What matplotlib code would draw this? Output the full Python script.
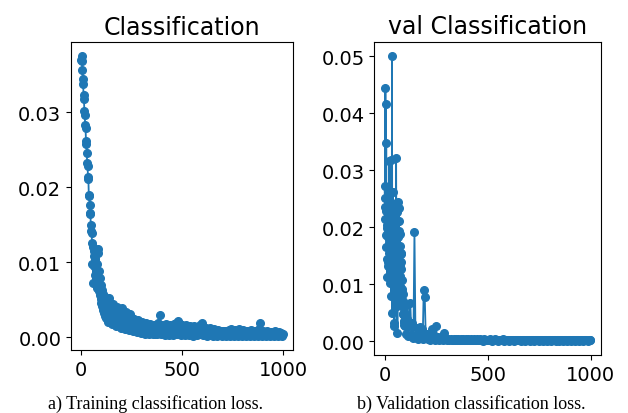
#!/usr/bin/env python3
"""
Training / validation classification loss
"""

import numpy as np
from matplotlib import pyplot as plt

# training loss: every 2 epochs up to 118, then every 5
train_epochs = np.r_[0:120:2, 120:1000:5, 999]
train_loss = [
    0.0370, 0.0375, 0.0368, 0.0356, 0.0344, 0.0338, 0.0323, 0.0318, 0.0302, 0.0296,
    0.0283, 0.0279, 0.0262, 0.0258, 0.0246, 0.0232, 0.0228, 0.0214, 0.0211, 0.0190,
    0.0189, 0.0176, 0.0166, 0.0164, 0.0150, 0.0142, 0.0139, 0.0126, 0.0098, 0.0120,
    0.0072, 0.0108, 0.0095, 0.0115, 0.0083, 0.0104, 0.0090, 0.0116, 0.0078, 0.0098,
    0.0066, 0.0112, 0.0074, 0.0118, 0.0062, 0.0088, 0.0057, 0.0079, 0.0051, 0.0070,
    0.0046, 0.0063, 0.0042, 0.0058, 0.0036, 0.0055, 0.0032, 0.0052, 0.0029, 0.0049,
    # 120 ->
    0.0054, 0.0026, 0.0048, 0.0021, 0.0052, 0.0024, 0.0041, 0.0018, 0.0044, 0.0020,
    0.0038, 0.0015, 0.0040, 0.0019, 0.0036, 0.0013, 0.0039, 0.0016, 0.0033, 0.0011,
    0.0034, 0.0014, 0.0029, 0.0010, 0.0031, 0.0012, 0.0026, 0.0008, 0.0024, 0.0011,
    0.0022, 0.0007, 0.0023, 0.0009, 0.0019, 0.0006, 0.0021, 0.0008, 0.0017, 0.0005,
    0.0019, 0.0007, 0.0016, 0.0004, 0.0018, 0.0006, 0.0015, 0.0004, 0.0017, 0.0005,
    0.0014, 0.0004, 0.0019, 0.0006, 0.0030, 0.0005, 0.0017, 0.0004, 0.0015, 0.0003,
    0.0018, 0.0005, 0.0014, 0.0003, 0.0017, 0.0004, 0.0015, 0.0003, 0.0018, 0.0005,
    0.0019, 0.0004, 0.0022, 0.0006, 0.0018, 0.0003, 0.0016, 0.0004, 0.0014, 0.0003,
    0.0016, 0.0005, 0.0013, 0.0003, 0.0015, 0.0004, 0.0013, 0.0002, 0.0015, 0.0004,
    0.0012, 0.0003, 0.0014, 0.0005, 0.0017, 0.0004, 0.0019, 0.0003, 0.0013, 0.0004,
    0.0012, 0.0002, 0.0011, 0.0003, 0.0013, 0.0004, 0.0010, 0.0002, 0.0011, 0.0003,
    0.0009, 0.0002, 0.0010, 0.0003, 0.0008, 0.0002, 0.0009, 0.0003, 0.0008, 0.0002,
    0.0008, 0.0003, 0.0010, 0.0002, 0.0011, 0.0003, 0.0009, 0.0002, 0.0010, 0.0003,
    0.0008, 0.0002, 0.0011, 0.0003, 0.0009, 0.0002, 0.0010, 0.0003, 0.0008, 0.0002,
    0.0009, 0.0003, 0.0007, 0.0002, 0.0010, 0.0003, 0.0008, 0.0002, 0.0009, 0.0003,
    0.0007, 0.0002, 0.0011, 0.0019, 0.0006, 0.0002, 0.0009, 0.0003, 0.0007, 0.0002,
    0.0008, 0.0003, 0.0006, 0.0002, 0.0007, 0.0003, 0.0006, 0.0002, 0.0008, 0.0003,
    0.0006, 0.0002, 0.0007, 0.0003, 0.0006, 0.0002, 0.0005,
]

# validation loss: every epoch up to 99, every 5 up to 995, then 999
val_epochs = np.r_[0:100, 100:1000:5, 999]
val_loss = [
    0.0273, 0.0251, 0.0236, 0.0214, 0.0444, 0.0187, 0.0416, 0.0229, 0.0348, 0.0166,
    0.0198, 0.0204, 0.0112, 0.0145, 0.0237, 0.0221, 0.0131, 0.0183, 0.0271, 0.0139,
    0.0155, 0.0246, 0.0317, 0.0170, 0.0102, 0.0132, 0.0208, 0.0219, 0.0124, 0.0161,
    0.0318, 0.0208, 0.0079, 0.0127, 0.0229, 0.0185, 0.0501, 0.0152, 0.0050, 0.0238,
    0.0262, 0.0109, 0.0118, 0.0172, 0.0196, 0.0201, 0.0026, 0.0088, 0.0032, 0.0163,
    0.0227, 0.0135, 0.0148, 0.0219, 0.0243, 0.0117, 0.0321, 0.0178, 0.0061, 0.0144,
    0.0210, 0.0226, 0.0015, 0.0069, 0.0244, 0.0182, 0.0158, 0.0124, 0.0193, 0.0211,
    0.0233, 0.0103, 0.0142, 0.0167, 0.0188, 0.0131, 0.0096, 0.0114, 0.0155, 0.0139,
    0.0081, 0.0153, 0.0126, 0.0087, 0.0065, 0.0108, 0.0092, 0.0059, 0.0048, 0.0083,
    0.0071, 0.0047, 0.0036, 0.0062, 0.0058, 0.0034, 0.0029, 0.0049, 0.0044, 0.0027,
    # 100 ->
    0.0031, 0.0012, 0.0038, 0.0009, 0.0027, 0.0066, 0.0011, 0.0032, 0.0006, 0.0192,
    0.0008, 0.0023, 0.0004, 0.0015, 0.0024, 0.0005, 0.0022, 0.0003, 0.0090, 0.0078,
    0.0006, 0.0012, 0.0003, 0.0009, 0.0002, 0.0011, 0.0021, 0.0003, 0.0008, 0.0002,
    0.0026, 0.0004, 0.0007, 0.0002, 0.0006, 0.0003, 0.0005, 0.0002, 0.0014, 0.0003,
    # 300 ->
    0.0004, 0.0002, 0.0003, 0.0001, 0.0004, 0.0002, 0.0001, 0.0003, 0.0002, 0.0004,
    0.0001, 0.0003, 0.0002, 0.0001, 0.0003, 0.0002, 0.0004, 0.0001, 0.0002, 0.0003,
    0.0001, 0.0004, 0.0002, 0.0001, 0.0003, 0.0002, 0.0001, 0.0003, 0.0002, 0.0001,
    0.0003, 0.0001, 0.0002, 0.0003, 0.0001, 0.0002, 0.00005, 0.0003, 0.0001, 0.0002,
    0.0001, 0.0002, 0.0003, 0.0001, 0.00005, 0.0002, 0.0001, 0.0003, 0.0001, 0.0002,
    0.00005, 0.0002, 0.0001, 0.0002, 0.0001, 0.0003, 0.00005, 0.0001, 0.0002, 0.0001,
    0.0002, 0.00005, 0.0001, 0.0002, 0.0001, 0.0002, 0.00005, 0.0001, 0.0002, 0.0001,
    0.0001, 0.0002, 0.00005, 0.0001, 0.0002, 0.0001, 0.00005, 0.0002, 0.0001, 0.0001,
    0.0002, 0.00005, 0.0001, 0.0002, 0.0001, 0.00005, 0.0002, 0.0001, 0.0001, 0.0002,
    0.00005, 0.0001, 0.0002, 0.0001, 0.00005, 0.0001, 0.0002, 0.0001, 0.00005, 0.0002,
    0.0001, 0.0001, 0.00005, 0.0002, 0.0001, 0.0001, 0.00005, 0.0002, 0.0001, 0.00005,
    0.0001, 0.0002, 0.0001, 0.00005, 0.0001, 0.0002, 0.0001, 0.00005, 0.0001, 0.0002,
    0.0001, 0.00005, 0.0001, 0.0002, 0.0001, 0.00005, 0.0001, 0.0002, 0.0001, 0.00005,
    0.0001, 0.0002, 0.0001, 0.00005, 0.0001, 0.0002, 0.0001, 0.00005, 0.0001, 0.0002,
    0.0001,
]

titles = ["Classification", "val Classification"]
captions = ["a) Training classification loss.", "b) Validation classification loss."]

fig = plt.figure(figsize=(6.28, 4.14), dpi=100)
ax1 = fig.add_axes([0.1131, 0.1522, 0.3535, 0.744])
ax2 = fig.add_axes([0.596, 0.1401, 0.3605, 0.7568])

for ax, x, y, title in [(ax1, train_epochs, train_loss, titles[0]),
                        (ax2, val_epochs, val_loss, titles[1])]:
    ax.plot(x, y, marker="o", markersize=5.5, linewidth=1.3, color="#1f77b4")
    ax.set_title(title, fontsize=17)
    ax.tick_params(labelsize=14)

ax1.set_yticks([0.0, 0.01, 0.02, 0.03])
ax2.set_yticks([0.0, 0.01, 0.02, 0.03, 0.04, 0.05])
for ax in (ax1, ax2):
    ax.set_xticks([0, 500, 1000])

fig.text(155.8 / 628, 1 - 409 / 414, captions[0], ha="center", va="baseline",
         family="Liberation Serif", fontsize=13)
fig.text(471.7 / 628, 1 - 409 / 414, captions[1], ha="center", va="baseline",
         family="Liberation Serif", fontsize=13)

fig.savefig("out.png", dpi=100)
